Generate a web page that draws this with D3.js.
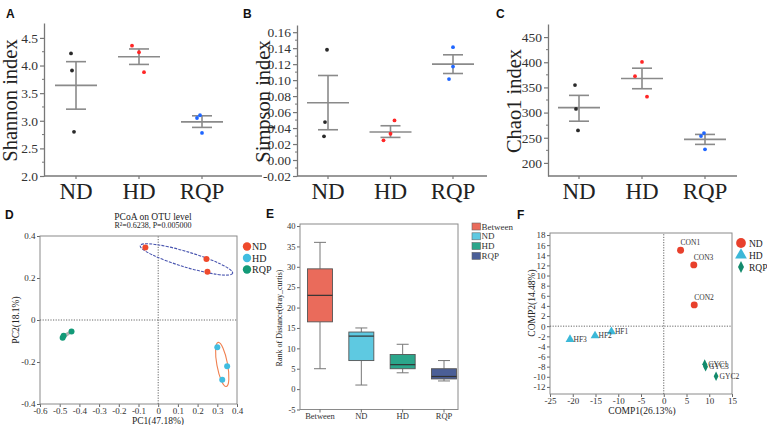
<!DOCTYPE html>
<html><head><meta charset="utf-8">
<script src="https://cdn.jsdelivr.net/npm/d3@7"></script>
<style>
body{margin:0;background:#fff}
svg{display:block}
text{font-family:"Liberation Serif","Times New Roman",serif}
.lett{font-family:"Liberation Sans",Arial,sans-serif;font-weight:bold}
</style>
</head><body>
<svg id="c" width="767" height="425"></svg>
<script>
// ================= DATA =================
const groups = ["ND", "HD", "RQP"];

// A: Shannon
const shannonPoints = [[4.22, 3.91, 2.80], [4.36, 4.24, 3.88], [3.10, 3.05, 2.78]];
const shannonMean = [3.64, 4.16, 2.98];
const shannonLow = [3.21, 4.02, 2.88];
const shannonHigh = [4.07, 4.30, 3.09];
const shannonTicks = [2.0, 2.5, 3.0, 3.5, 4.0, 4.5];

// B: Simpson
const simpsonPoints = [[0.138, 0.0475, 0.0296], [0.0496, 0.0329, 0.0246], [0.1413, 0.117, 0.1013]];
const simpsonMean = [0.0717, 0.035, 0.120];
const simpsonLow = [0.0379, 0.0283, 0.1083];
const simpsonHigh = [0.1058, 0.0429, 0.1317];
const simpsonTicks = [-0.02, 0.00, 0.02, 0.04, 0.06, 0.08, 0.10, 0.12, 0.14, 0.16];

// C: Chao1
const chaoPoints = [[354.6, 307.2, 264.5], [400.7, 372.4, 331.6], [259.2, 253.3, 226.9]];
const chaoMean = [309.9, 367.8, 246.7];
const chaoLow = [282.9, 347.4, 236.8];
const chaoHigh = [334.2, 388.2, 256.6];
const chaoTicks = [200, 250, 300, 350, 400, 450];

// D: PCoA
const pcoaTitle = "PCoA on OTU level";
const pcoaStats = "R²=0.6238, P=0.005000";
const pcoaPC1 = [[-0.065, 0.245, 0.25], [0.30, 0.35, 0.325], [-0.44, -0.48, -0.485]];
const pcoaPC2 = [[0.345, 0.29, 0.23], [-0.13, -0.22, -0.285], [-0.055, -0.075, -0.085]];
const pcoaXTicks = [-0.6, -0.5, -0.4, -0.3, -0.2, -0.1, 0, 0.1, 0.2, 0.3, 0.4];
const pcoaYTicks = [-0.4, -0.2, 0, 0.2, 0.4];

// E: distance ranks
const distGroups = ["Between", "ND", "HD", "RQP"];
const distMin = [5, 1, 4, 2];
const distQ1 = [16.5, 7, 5, 2.5];
const distMedian = [23, 13, 6, 3.1];
const distQ3 = [29.5, 14, 8.5, 5];
const distMax = [36, 15, 11, 7];
const distTicks = [-5, 0, 5, 10, 15, 20, 25, 30, 35, 40];

// F: PLS-DA
const plsNames = [["CON1", "CON3", "CON2"], ["HF1", "HF2", "HF3"], ["GYC1", "GYC3", "GYC2"]];
const plsComp1 = [[3.7, 6.6, 6.7], [-11.5, -15.1, -20.6], [9.0, 9.2, 11.5]];
const plsComp2 = [[15.0, 12.1, 4.2], [-1.1, -1.9, -2.6], [-7.5, -8.0, -9.9]];
const plsXTicks = [-25, -20, -15, -10, -5, 0, 5, 10, 15];
const plsYTicks = [-12, -10, -8, -6, -4, -2, 0, 2, 4, 6, 8, 10, 12, 14, 16, 18];

// ================= DRAW =================
const svg = d3.select("#c");
const AX = "#777";

function letter(t, x, y) {
  svg.append("text").attr("class", "lett").attr("x", x).attr("y", y)
    .attr("font-size", 12).attr("fill", "#111").text(t);
}

// ---------- dot/mean panels ----------
const dotColors = ["#2a2a2a", "#ff2626", "#1f66ff"];
const jitter = [[[-5, -4, -2], [-7, 0, 5], [-2, -5, 0]],
                [[-1, -3, -4], [4, 0, -7], [0, 0, -4]],
                [[-4, -3, -1], [0, -7, 5], [-1, -4, 0]]];

function dotPanel(o, pi) {
  const g = svg.append("g");
  const base = 176;
  const y = d3.scaleLinear().domain(o.domain).range([base, o.top]);
  const x = d3.scalePoint().domain(groups).range([o.cat0, o.cat1]);
  const ya = g.append("g").attr("transform", `translate(${o.x0},0)`)
    .call(d3.axisLeft(y).tickValues(o.ticks).tickFormat(o.fmt).tickSize(4).tickSizeOuter(0).tickPadding(2));
  ya.select(".domain").attr("stroke", AX).attr("stroke-width", 1.3);
  ya.selectAll(".tick line").attr("stroke", AX).attr("stroke-width", 1.2);
  ya.selectAll(".tick text").attr("font-family", "Liberation Serif").attr("font-size", 13.5).attr("fill", "#333");
  const minors = d3.pairs(o.ticks).map(p => (p[0] + p[1]) / 2);
  g.selectAll(".mn").data(minors).join("line")
    .attr("x1", o.x0 - 2).attr("x2", o.x0).attr("y1", d => y(d)).attr("y2", d => y(d))
    .attr("stroke", AX).attr("stroke-width", 1);
  g.append("line").attr("x1", o.x0).attr("x2", o.x1).attr("y1", base).attr("y2", base)
    .attr("stroke", AX).attr("stroke-width", 1.3);
  g.selectAll(".xt").data(groups).join("line")
    .attr("x1", d => x(d)).attr("x2", d => x(d)).attr("y1", base).attr("y2", base + 3)
    .attr("stroke", AX).attr("stroke-width", 1.2);
  g.selectAll(".xl").data(groups).join("text")
    .attr("x", d => x(d)).attr("y", 199).attr("text-anchor", "middle")
    .attr("font-size", 23).attr("fill", "#222").text(d => d);
  g.append("text").attr("transform", `translate(${o.x0 - 27},${(base + o.top) / 2 + 1}) rotate(-90)`)
    .attr("text-anchor", "middle").attr("font-size", 20.5).attr("fill", "#222").text(o.title);
  groups.forEach((gr, i) => {
    const cx = x(gr);
    const eb = g.append("g").attr("stroke", "#8a8a8a").attr("stroke-width", 1.6);
    eb.append("line").attr("x1", cx).attr("x2", cx).attr("y1", y(o.lo[i])).attr("y2", y(o.hi[i]));
    eb.append("line").attr("x1", cx - 10).attr("x2", cx + 10).attr("y1", y(o.lo[i])).attr("y2", y(o.lo[i]));
    eb.append("line").attr("x1", cx - 10).attr("x2", cx + 10).attr("y1", y(o.hi[i])).attr("y2", y(o.hi[i]));
    eb.append("line").attr("x1", cx - 21).attr("x2", cx + 21).attr("y1", y(o.mean[i])).attr("y2", y(o.mean[i]));
    g.selectAll(null).data(o.pts[i]).join("circle")
      .attr("cx", (d, j) => cx + jitter[pi][i][j]).attr("cy", d => y(d)).attr("r", 1.9)
      .attr("fill", dotColors[i]);
  });
}

dotPanel({x0: 44, x1: 262, cat0: 76, cat1: 202, domain: [2, 4.77], top: 23, ticks: shannonTicks,
  fmt: d => d.toFixed(1), pts: shannonPoints, mean: shannonMean, lo: shannonLow, hi: shannonHigh,
  title: "Shannon index"}, 0);
dotPanel({x0: 297, x1: 487, cat0: 328, cat1: 453, domain: [-0.02, 0.169], top: 25, ticks: simpsonTicks,
  fmt: d => d.toFixed(2), pts: simpsonPoints, mean: simpsonMean, lo: simpsonLow, hi: simpsonHigh,
  title: "Simpson index"}, 1);
dotPanel({x0: 548, x1: 737, cat0: 579, cat1: 705, domain: [174, 476], top: 24, ticks: chaoTicks,
  fmt: d => String(d), pts: chaoPoints, mean: chaoMean, lo: chaoLow, hi: chaoHigh,
  title: "Chao1 index"}, 2);

letter("A", 6, 18);
letter("B", 243, 18);
letter("C", 496, 18);

// ---------- helpers for framed panels ----------
function framedAxes(g, x, y, xt, yt, xf, yf, fs) {
  const xa = g.append("g").attr("transform", `translate(0,${y.range()[0]})`)
    .call(d3.axisBottom(x).tickValues(xt).tickFormat(xf).tickSize(3).tickSizeOuter(0).tickPadding(0.5));
  const ya = g.append("g").attr("transform", `translate(${x.range()[0]},0)`)
    .call(d3.axisLeft(y).tickValues(yt).tickFormat(yf).tickSize(3).tickSizeOuter(0).tickPadding(1.5));
  [xa, ya].forEach(a => {
    a.select(".domain").remove();
    a.selectAll(".tick line").attr("stroke", "#666");
    a.selectAll(".tick text").attr("font-family", "Liberation Serif").attr("font-size", fs).attr("fill", "#333");
  });
  g.append("rect").attr("x", x.range()[0]).attr("y", y.range()[1])
    .attr("width", x.range()[1] - x.range()[0]).attr("height", y.range()[0] - y.range()[1])
    .attr("fill", "none").attr("stroke", "#8a8a8a").attr("stroke-width", 1);
}
function zeroLines(g, x, y) {
  g.append("line").attr("x1", x(0)).attr("x2", x(0)).attr("y1", y.range()[0]).attr("y2", y.range()[1])
    .attr("stroke", "#666").attr("stroke-dasharray", "1.2,1.4");
  g.append("line").attr("x1", x.range()[0]).attr("x2", x.range()[1]).attr("y1", y(0)).attr("y2", y(0))
    .attr("stroke", "#666").attr("stroke-dasharray", "1.2,1.4");
}
const fmtDec = d => d === 0 ? "0" : d.toFixed(1);

// ---------- D: PCoA ----------
{
  const g = svg.append("g");
  const x = d3.scaleLinear().domain([-0.6, 0.4]).range([40, 237]);
  const y = d3.scaleLinear().domain([-0.4, 0.4]).range([404, 236]);
  framedAxes(g, x, y, pcoaXTicks, pcoaYTicks, fmtDec, fmtDec, 9);
  zeroLines(g, x, y);
  g.append("text").attr("x", 153).attr("y", 220).attr("text-anchor", "middle").attr("font-size", 9.5).attr("fill", "#222").text(pcoaTitle);
  g.append("text").attr("x", 153).attr("y", 228).attr("text-anchor", "middle").attr("font-size", 8).attr("fill", "#222").text(pcoaStats);
  g.append("text").attr("x", 158).attr("y", 423.5).attr("text-anchor", "middle").attr("font-size", 9.5).attr("fill", "#222").text("PC1(47.18%)");
  g.append("text").attr("transform", "translate(19,320) rotate(-90)").attr("text-anchor", "middle").attr("font-size", 9.5).attr("fill", "#222").text("PC2(18.1%)");

  const cols = ["#ef4a2c", "#41bde0", "#139a78"];
  const ellCols = ["#4a56b0", "#f08050", "#b0b0b0"];
  const ellDash = ["3,1.2", null, null];
  const ellK = [1.3, 1.35, 0.9];
  const ellW = [1.1, 1.1, 1.6];
  function ell(px, py, k) {
    const n = px.length, mx = d3.mean(px), my = d3.mean(py);
    let a = 0, b = 0, d = 0;
    for (let i = 0; i < n; i++) { const dx = px[i] - mx, dy = py[i] - my; a += dx * dx; b += dx * dy; d += dy * dy; }
    a /= n - 1; b /= n - 1; d /= n - 1;
    const t = (a + d) / 2, s = Math.sqrt(((a - d) / 2) ** 2 + b * b);
    const ang = 0.5 * Math.atan2(2 * b, a - d) * 180 / Math.PI;
    return {cx: mx, cy: my, rx: k * Math.sqrt(t + s), ry: k * Math.sqrt(Math.max(t - s, 0.3)), ang};
  }
  groups.forEach((gr, i) => {
    const px = pcoaPC1[i].map(x), py = pcoaPC2[i].map(y);
    const e = ell(px, py, ellK[i]);
    g.append("ellipse").attr("cx", 0).attr("cy", 0).attr("rx", e.rx).attr("ry", Math.max(e.ry, 1))
      .attr("transform", `translate(${e.cx},${e.cy}) rotate(${e.ang})`)
      .attr("fill", "none").attr("stroke", ellCols[i]).attr("stroke-width", ellW[i])
      .attr("stroke-dasharray", ellDash[i]);
  });
  groups.forEach((gr, i) => {
    g.selectAll(null).data(d3.range(pcoaPC1[i].length)).join("circle")
      .attr("cx", j => x(pcoaPC1[i][j])).attr("cy", j => y(pcoaPC2[i][j])).attr("r", 3)
      .attr("fill", cols[i]);
    g.append("circle").attr("cx", 247).attr("cy", 246.5 + i * 11.5).attr("r", 4.2).attr("fill", cols[i]);
    g.append("text").attr("x", 252).attr("y", 250 + i * 11.5).attr("font-size", 10).attr("fill", "#222").text(gr);
  });
  letter("D", 5, 219);
}

// ---------- E: box plot ----------
{
  const g = svg.append("g");
  const y = d3.scaleLinear().domain([-5, 40.5]).range([409.5, 224]);
  const x = d3.scalePoint().domain(distGroups).range([320, 444]);
  const cols = ["#ea6b5b", "#5ec9e1", "#2ba68b", "#4b5f97"];
  const ya = g.append("g").attr("transform", "translate(300,0)")
    .call(d3.axisLeft(y).tickValues(distTicks).tickSize(3).tickSizeOuter(0).tickPadding(1.5));
  ya.select(".domain").remove();
  ya.selectAll(".tick line").attr("stroke", "#666");
  ya.selectAll(".tick text").attr("font-family", "Liberation Serif").attr("font-size", 8.5).attr("fill", "#333")
    .text(d => String(d));
  g.append("rect").attr("x", 300).attr("y", 224).attr("width", 158).attr("height", 185.5)
    .attr("fill", "none").attr("stroke", "#8a8a8a");
  g.selectAll(".xt").data(distGroups).join("line")
    .attr("x1", d => x(d)).attr("x2", d => x(d)).attr("y1", 409.5).attr("y2", 412.5).attr("stroke", "#666");
  g.selectAll(".xl").data(distGroups).join("text")
    .attr("x", d => x(d)).attr("y", 419).attr("text-anchor", "middle").attr("font-size", 8.5).attr("fill", "#333").text(d => d);
  g.append("text").attr("transform", "translate(282,318) rotate(-90)").attr("text-anchor", "middle")
    .attr("font-size", 8).attr("fill", "#222").text("Rank of Distance(bray_curtis)");
  const bw = 25;
  distGroups.forEach((gr, i) => {
    const cx = x(gr);
    const w = g.append("g").attr("stroke", "#777").attr("stroke-width", 1);
    w.append("line").attr("x1", cx).attr("x2", cx).attr("y1", y(distMax[i])).attr("y2", y(distQ3[i]));
    w.append("line").attr("x1", cx).attr("x2", cx).attr("y1", y(distQ1[i])).attr("y2", y(distMin[i]));
    w.append("line").attr("x1", cx - 6).attr("x2", cx + 6).attr("y1", y(distMax[i])).attr("y2", y(distMax[i]));
    w.append("line").attr("x1", cx - 6).attr("x2", cx + 6).attr("y1", y(distMin[i])).attr("y2", y(distMin[i]));
    g.append("rect").attr("x", cx - bw / 2).attr("y", y(distQ3[i])).attr("width", bw)
      .attr("height", y(distQ1[i]) - y(distQ3[i])).attr("fill", cols[i]).attr("stroke", "#555").attr("stroke-width", 0.9);
    g.append("line").attr("x1", cx - bw / 2).attr("x2", cx + bw / 2).attr("y1", y(distMedian[i])).attr("y2", y(distMedian[i]))
      .attr("stroke", "#333").attr("stroke-width", 1.2);
    g.append("rect").attr("x", 472).attr("y", 223 + i * 9.8).attr("width", 8.5).attr("height", 7)
      .attr("fill", cols[i]).attr("stroke", "#666").attr("stroke-width", 0.6);
    g.append("text").attr("x", 481.5).attr("y", 229.5 + i * 9.8).attr("font-size", 9).attr("fill", "#333").text(gr);
  });
  letter("E", 266, 218);
}

// ---------- F: PLS-DA ----------
{
  const g = svg.append("g");
  const x = d3.scaleLinear().domain([-25, 15]).range([550, 732]);
  const y = d3.scaleLinear().domain([-13.4, 18.4]).range([394, 233]);
  framedAxes(g, x, y, plsXTicks, plsYTicks, d => String(d), d => String(d), 9);
  zeroLines(g, x, y);
  g.append("text").attr("x", 642).attr("y", 413.5).attr("text-anchor", "middle").attr("font-size", 9.5).attr("fill", "#222").text("COMP1(26.13%)");
  g.append("text").attr("transform", "translate(535,303) rotate(-90)").attr("text-anchor", "middle").attr("font-size", 9.5).attr("fill", "#222").text("COMP2(14.48%)");
  const cols = ["#e8402c", "#3cb8d8", "#138a6c"];
  const sym = [d3.symbol(d3.symbolCircle, 38)(), d3.symbol(d3.symbolTriangle, 34)(), "M0,-4.8L2.4,0L0,4.8L-2.4,0Z"];
  const legSym = [d3.symbol(d3.symbolCircle, 75)(), d3.symbol(d3.symbolTriangle, 60)(), "M0,-6L3,0L0,6L-3,0Z"];
  groups.forEach((gr, i) => {
    plsComp1[i].forEach((v, j) => {
      const px = x(v), py = y(plsComp2[i][j]);
      g.append("path").attr("d", sym[i]).attr("transform", `translate(${px},${py})`).attr("fill", cols[i]);
      const lab = g.append("text").attr("font-size", 7.5).attr("fill", "#333").text(plsNames[i][j]);
      if (i === 0) lab.attr("x", px).attr("y", py - 5);
      else lab.attr("x", px + 3.5).attr("y", py + 2.5);
    });
    g.append("path").attr("d", legSym[i]).attr("transform", `translate(741,${243 + i * 12})`).attr("fill", cols[i]);
    g.append("text").attr("x", 749).attr("y", 246.5 + i * 12).attr("font-size", 9.5).attr("fill", "#222").text(gr);
  });
  letter("F", 517, 219);
}
</script>
</body></html>
